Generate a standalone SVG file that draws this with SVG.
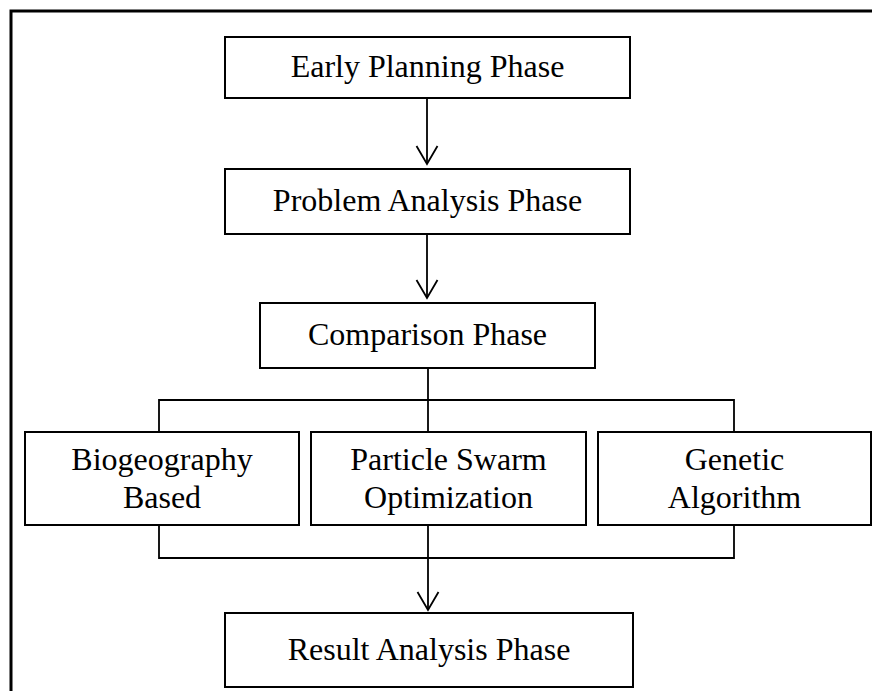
<svg xmlns="http://www.w3.org/2000/svg" width="872" height="691" viewBox="0 0 872 691">
<style>
.box{fill:#fff;stroke:#000;stroke-width:2}
.t{font-family:"Liberation Serif","Times New Roman",serif;font-size:32px;fill:#000;text-anchor:middle}
.c{fill:none;stroke:#000;stroke-width:1.8}
</style>
<rect width="872" height="691" fill="#fff"/>
<path d="M11,691 V11 H872" fill="none" stroke="#000" stroke-width="3"/>
<g id="connectors">
<line class="c" x1="427" y1="98" x2="427" y2="164"/>
<polyline class="c" points="416.5,146 427,164 437.5,146"/>
<line class="c" x1="427" y1="234" x2="427" y2="298"/>
<polyline class="c" points="416.5,280 427,298 437.5,280"/>
<line class="c" x1="428" y1="368" x2="428" y2="400"/>
<polyline class="c" points="159,432 159,400 734,400 734,432"/>
<line class="c" x1="428" y1="400" x2="428" y2="432"/>
<polyline class="c" points="159,525 159,558 734,558 734,525"/>
<line class="c" x1="428" y1="525" x2="428" y2="610"/>
<polyline class="c" points="417.5,592 428,610 438.5,592"/>
</g>
<g id="early">
<rect class="box" x="225" y="37" width="405" height="61"/>
<text class="t" x="427.5" y="77">Early Planning Phase</text>
</g>
<g id="problem">
<rect class="box" x="225" y="169" width="405" height="65"/>
<text class="t" x="427.5" y="211">Problem Analysis Phase</text>
</g>
<g id="comparison">
<rect class="box" x="260" y="303" width="335" height="65"/>
<text class="t" x="427.5" y="345">Comparison Phase</text>
</g>
<g id="bbo">
<rect class="box" x="25" y="432" width="274" height="93"/>
<text class="t" x="162" y="470">Biogeography</text>
<text class="t" x="162" y="508">Based</text>
</g>
<g id="pso">
<rect class="box" x="311" y="432" width="275" height="93"/>
<text class="t" x="448.5" y="470">Particle Swarm</text>
<text class="t" x="448.5" y="508">Optimization</text>
</g>
<g id="ga">
<rect class="box" x="598" y="432" width="273" height="93"/>
<text class="t" x="734.5" y="470">Genetic</text>
<text class="t" x="734.5" y="508">Algorithm</text>
</g>
<g id="result">
<rect class="box" x="225" y="613" width="408" height="74"/>
<text class="t" x="429" y="660">Result Analysis Phase</text>
</g>
</svg>
